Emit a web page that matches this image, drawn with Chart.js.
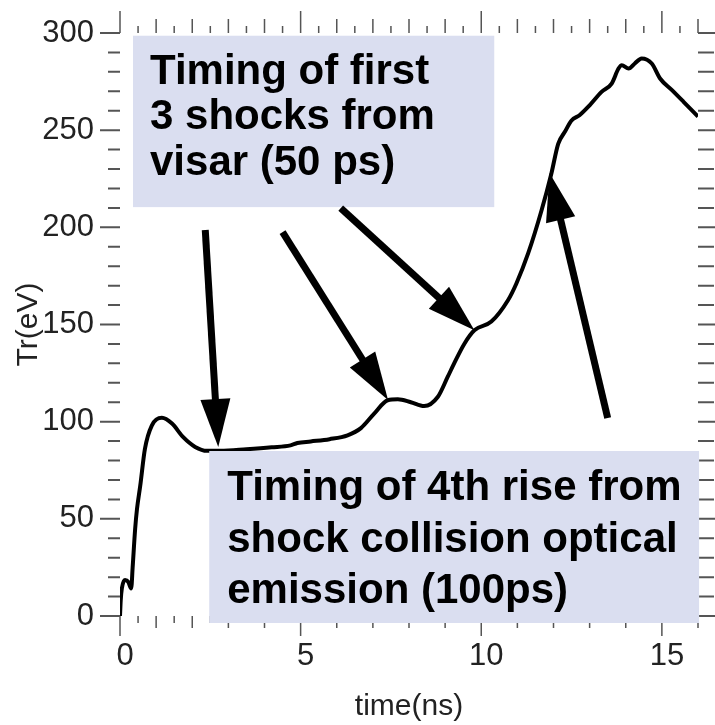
<!DOCTYPE html>
<html>
<head>
<meta charset="utf-8">
<script src="https://cdn.jsdelivr.net/npm/chart.js"></script>
<style>
  body { margin: 0; background: #fff; }
</style>
</head>
<body>
<canvas id="myChart" width="715" height="725"></canvas>
<script>
// radiation temperature vs time
var timeNs = [0, 0.02, 0.05, 0.14, 0.23, 0.31, 0.35, 0.42, 0.47, 0.56,
  0.69, 0.88, 1.16, 1.44, 1.75, 2.08, 2.41, 2.78, 3.5, 4.2,
  4.72, 4.91, 5.28, 5.8, 6.3, 6.67, 7.03, 7.41, 7.69, 8.05,
  8.42, 8.8, 9.07, 9.25, 9.53, 9.81, 10.28, 10.74, 10.97, 11.3,
  11.67, 11.94, 12.13, 12.31, 12.5, 12.72, 13.0, 13.33, 13.61, 13.8,
  13.89, 14.08, 14.25, 14.44, 14.72, 14.95, 15.28, 15.6, 16.0];
var trEv = [0, 8, 14, 18.5, 17.5, 14.2, 25, 45, 55, 67,
  86, 98, 102, 99, 92, 87, 85, 85, 85.8, 86.8,
  87.8, 89, 89.8, 91, 93, 96.7, 104, 111, 111.5, 110,
  108, 112.8, 123, 130, 140, 147, 151.5, 162.5, 171, 186.7,
  208.8, 227.6, 243, 249, 255, 257.7, 262.8, 269.7, 274, 281.7,
  283.4, 281.7, 284.3, 286.9, 284.3, 276.6, 270.6, 264.6, 257];
var xTickValues = [0, 5, 10, 15];
var yTickValues = [0, 50, 100, 150, 200, 250, 300];

var visarLines = ["Timing of first", "3 shocks from", "visar (50 ps)"];
var collisionLines = ["Timing of 4th rise from", "shock collision optical", "emission (100ps)"];

var fam = "'Liberation Sans', Arial, Helvetica, sans-serif";

// boxes and arrows are placed in data units (time, Tr)
var notes = [
  { box: [0.36, 298.6, 10.36, 210.4], lines: visarLines, baselines: [48, 93.5, 139], padX: 17 },
  { box: [2.47, 84.9, 16.03, -3.6], lines: collisionLines, baselines: [49, 100.5, 152], padX: 18 }
];
var arrows = [
  [2.36, 198.6, 2.72, 86.9],
  [4.5, 197.5, 7.42, 111.1],
  [6.11, 209.9, 9.81, 147.1],
  [13.5, 101.9, 11.89, 227.9]
];

function drawArrow(ctx, x0, y0, x1, y1) {
  var dx = x1 - x0, dy = y1 - y0;
  var L = Math.hypot(dx, dy);
  var ux = dx / L, uy = dy / L;
  var hl = 48, hw = 15;
  var bx = x1 - ux * hl, by = y1 - uy * hl;
  ctx.lineWidth = 7;
  ctx.beginPath();
  ctx.moveTo(x0, y0);
  ctx.lineTo(bx + ux * 3, by + uy * 3);
  ctx.stroke();
  ctx.beginPath();
  ctx.moveTo(x1, y1);
  ctx.lineTo(bx - uy * hw, by + ux * hw);
  ctx.lineTo(bx + uy * hw, by - ux * hw);
  ctx.closePath();
  ctx.fill();
}

var frame = {
  id: 'frame',
  afterDraw: function (chart) {
    var ctx = chart.ctx;
    var xs = chart.scales.x, ys = chart.scales.y;
    var a = chart.chartArea;
    ctx.save();

    // tick marks on all four sides
    ctx.strokeStyle = '#555';
    ctx.lineWidth = 2;
    ctx.beginPath();
    for (var v = 0; v <= 300; v += 10) {
      var py = ys.getPixelForValue(v);
      var major = v % 50 === 0;
      ctx.moveTo(a.left - (major ? 20 : 12), py);
      ctx.lineTo(a.left, py);
      ctx.moveTo(a.right, py);
      ctx.lineTo(a.right + (major ? 18 : 16), py);
    }
    ctx.stroke();
    ctx.lineWidth = 1.5;
    ctx.beginPath();
    for (var t = 0; t <= 16; t += 0.5) {
      var px = xs.getPixelForValue(t);
      var up = t % 5 === 0 ? 22 : (t % 1 === 0 ? 14 : 7);
      var down = t % 5 === 0 ? 20 : (t % 1 === 0 ? 12 : 7);
      ctx.moveTo(px, a.top);
      ctx.lineTo(px, a.top - up);
      ctx.moveTo(px, a.bottom);
      ctx.lineTo(px, a.bottom + down);
    }
    ctx.stroke();

    // text boxes
    notes.forEach(function (n) {
      var x0 = xs.getPixelForValue(n.box[0]), y0 = ys.getPixelForValue(n.box[1]);
      var x1 = xs.getPixelForValue(n.box[2]), y1 = ys.getPixelForValue(n.box[3]);
      ctx.fillStyle = '#dadef0';
      ctx.fillRect(x0, y0, x1 - x0, y1 - y0);
      ctx.fillStyle = '#000';
      ctx.font = 'bold 42px ' + fam;
      ctx.textBaseline = 'alphabetic';
      ctx.textAlign = 'left';
      n.lines.forEach(function (s, i) {
        ctx.fillText(s, x0 + n.padX, y0 + n.baselines[i]);
      });
    });

    // arrows
    ctx.strokeStyle = '#000';
    ctx.fillStyle = '#000';
    arrows.forEach(function (r) {
      drawArrow(ctx, xs.getPixelForValue(r[0]), ys.getPixelForValue(r[1]),
        xs.getPixelForValue(r[2]), ys.getPixelForValue(r[3]));
    });
    ctx.restore();
  }
};

var points = timeNs.map(function (t, i) { return { x: t, y: trEv[i] }; });

new Chart(document.getElementById('myChart'), {
  type: 'line',
  data: {
    datasets: [{
      data: points,
      borderColor: '#000',
      borderWidth: 4,
      pointRadius: 0,
      fill: false,
      cubicInterpolationMode: 'monotone'
    }]
  },
  options: {
    responsive: false,
    animation: false,
    devicePixelRatio: 1,
    layout: { padding: { top: 33, right: 17, left: 0, bottom: 0 } },
    plugins: { legend: { display: false }, tooltip: { enabled: false } },
    scales: {
      x: {
        type: 'linear', min: 0, max: 16,
        afterBuildTicks: function (s) { s.ticks = xTickValues.map(function (v) { return { value: v }; }); },
        afterFit: function (s) { s.height = 109; },
        grid: { drawOnChartArea: false, drawTicks: true, tickLength: 20, color: 'rgba(0,0,0,0)' },
        border: { display: false },
        ticks: { font: { family: fam, size: 31 }, color: '#222', padding: 2, labelOffset: 5, maxRotation: 0, autoSkip: false },
        title: { display: true, text: 'time(ns)', font: { family: fam, size: 30 }, color: '#222', padding: { top: 0, bottom: 0 } }
      },
      y: {
        min: 0, max: 300,
        afterBuildTicks: function (s) { s.ticks = yTickValues.map(function (v) { return { value: v }; }); },
        afterFit: function (s) { s.width = 120; },
        grid: { drawOnChartArea: false, drawTicks: true, tickLength: 20, color: 'rgba(0,0,0,0)' },
        border: { display: false },
        ticks: { font: { family: fam, size: 31 }, color: '#222', padding: 6, autoSkip: false },
        title: { display: true, text: 'Tr(eV)', font: { family: fam, size: 30 }, color: '#222', padding: { top: 11, bottom: 0 } }
      }
    }
  },
  plugins: [frame]
});
</script>
</body>
</html>
